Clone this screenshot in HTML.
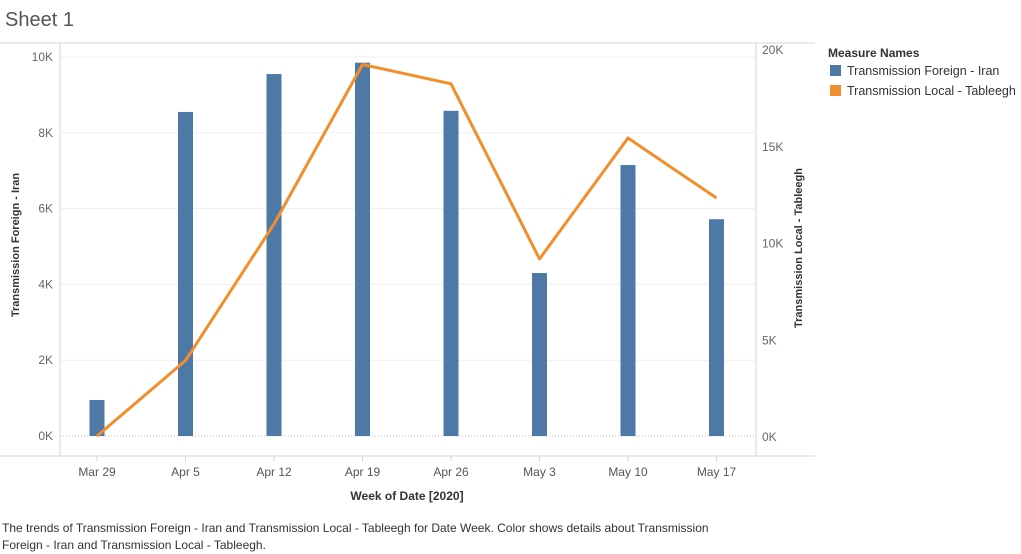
<!DOCTYPE html>
<html><head><meta charset="utf-8"><style>
body{margin:0;width:1021px;height:554px;background:#fff;font-family:"Liberation Sans",sans-serif;overflow:hidden;position:relative}
.t{position:absolute}
</style></head><body>
<div class="t" style="left:5px;top:9px;font-size:20px;color:#555">Sheet 1</div>
<svg width="1021" height="554" style="position:absolute;left:0;top:0" id="svg"></svg>
<div class="t" style="left:828px;top:46px;font-size:12px;font-weight:bold;color:#333">Measure Names</div>
<div class="t" style="left:830px;top:64px;font-size:12.5px;color:#333"><span style="display:inline-block;width:11px;height:11px;background:#4e79a7;vertical-align:-1px;margin-right:6px"></span>Transmission Foreign - Iran</div>
<div class="t" style="left:830px;top:84px;font-size:12.5px;color:#333"><span style="display:inline-block;width:11px;height:11px;background:#f28e2b;vertical-align:-1px;margin-right:6px"></span>Transmission Local - Tableegh</div>
<div class="t" style="left:2px;top:520px;width:745px;font-size:12px;line-height:17px;color:#333">The trends of Transmission Foreign - Iran and Transmission Local - Tableegh for Date Week.  Color shows details about Transmission Foreign - Iran and Transmission Local - Tableegh.</div>
<script>
const categories=["Mar 29","Apr 5","Apr 12","Apr 19","Apr 26","May 3","May 10","May 17"];
const foreignValues=[950,8550,9550,9850,8580,4300,7150,5720];
const localValues=[0,3900,10950,19200,18200,9150,15400,12300];
const leftTicks=[0,2000,4000,6000,8000,10000];
const rightTicks=[0,5000,10000,15000,20000];
const NS="http://www.w3.org/2000/svg";
const svg=document.getElementById('svg');
function mk(t,a,txt){const e=document.createElementNS(NS,t);for(const k in a)e.setAttribute(k,a[k]);if(txt!==undefined)e.textContent=txt;svg.appendChild(e);return e;}
const x0=60,x1=756,y0=436;
const yL=v=>y0-v*(379/10000);
const yR=v=>y0-v*(387/20000);
const xC=i=>97+i*88.5;
const fmt=v=>(v/1000)+"K";
leftTicks.forEach(v=>{
 if(v>0){const g=mk('line',{x1:x0,x2:x1,y1:yL(v),y2:yL(v),stroke:'#efefef'});}
 const t=mk('text',{x:53,y:yL(v)+4,'text-anchor':'end','font-size':12,fill:'#666'},fmt(v));
 
});
rightTicks.forEach(v=>{
 const t=mk('text',{x:762,y:yR(v)+5,'font-size':12,fill:'#666'},fmt(v));
 
});
mk('line',{x1:x0,x2:x1,y1:y0,y2:y0,stroke:'#bbb','stroke-dasharray':'1,2'});
mk('line',{x1:0,x2:815,y1:43,y2:43,stroke:'#d4d4d4'});
mk('line',{x1:0,x2:815,y1:456,y2:456,stroke:'#d4d4d4'});
mk('line',{x1:x0,x2:x0,y1:43,y2:456,stroke:'#d4d4d4'});
mk('line',{x1:x1,x2:x1,y1:43,y2:456,stroke:'#d4d4d4'});
categories.forEach((c,i)=>{
 const b=mk('rect',{x:xC(i)-7.5,y:yL(foreignValues[i]),width:15,height:y0-yL(foreignValues[i]),fill:'#4e79a7'});
 
 mk('line',{x1:xC(i),x2:xC(i),y1:456,y2:461,stroke:'#d4d4d4'});
 const t=mk('text',{x:xC(i),y:476,'text-anchor':'middle','font-size':12,fill:'#555'},c);
 
});
const pl=mk('polyline',{points:localValues.map((v,i)=>xC(i)+','+yR(v)).join(' '),fill:'none',stroke:'#f28e2b','stroke-width':3,'stroke-linejoin':'round'});

const xt=mk('text',{x:407,y:500,'text-anchor':'middle','font-size':12,'font-weight':'bold',fill:'#333'},'Week of Date [2020]');

const yt=mk('text',{transform:'translate(19,245) rotate(-90)','text-anchor':'middle','font-size':11,'font-weight':'bold',fill:'#333'},'Transmission Foreign - Iran');

const yt2=mk('text',{transform:'translate(802,248) rotate(-90)','text-anchor':'middle','font-size':11,'font-weight':'bold',fill:'#333'},'Transmission Local - Tableegh');

</script>
</body></html>
